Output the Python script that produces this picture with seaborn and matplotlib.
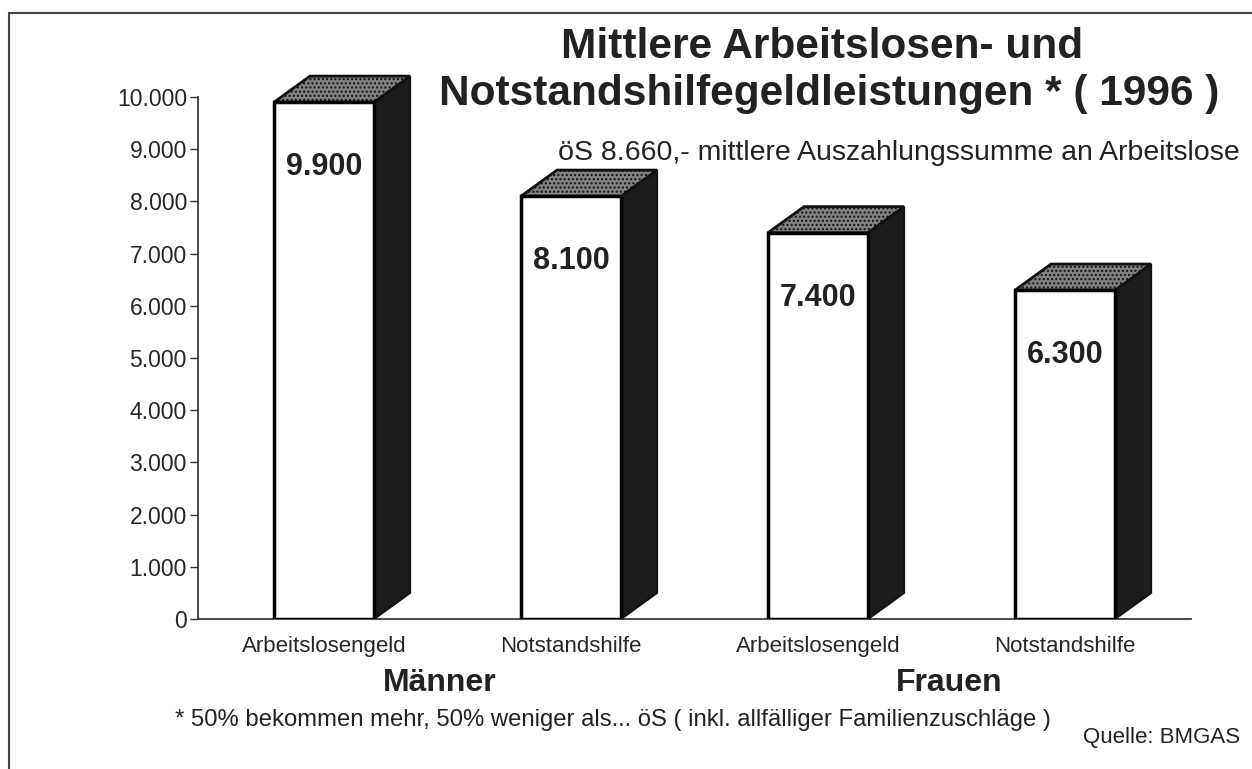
import matplotlib
matplotlib.use("Agg")
import matplotlib.pyplot as plt
import numpy as np
import pandas as pd
import seaborn as sns
from matplotlib.patches import Polygon, Rectangle

# data
leistung = ["Arbeitslosengeld", "Notstandshilfe", "Arbeitslosengeld", "Notstandshilfe"]
geschlecht = ["Männer", "Männer", "Frauen", "Frauen"]
betrag = [9900, 8100, 7400, 6300]
wert_labels = ["9.900", "8.100", "7.400", "6.300"]
yticks = [0, 1000, 2000, 3000, 4000, 5000, 6000, 7000, 8000, 9000, 10000]
ytick_labels = ["0", "1.000", "2.000", "3.000", "4.000", "5.000", "6.000",
                "7.000", "8.000", "9.000", "10.000"]

df = pd.DataFrame({"pos": [f"{g}_{i}" for i, g in enumerate(geschlecht)],
                   "Leistung": leistung, "Betrag": betrag})

sns.set_theme(style="white")
plt.rcParams["font.family"] = ["Liberation Sans", "DejaVu Sans"]

W, H = 1252, 769
fig = plt.figure(figsize=(W / 100, H / 100), dpi=100)
ax = fig.add_axes([198 / W, 1 - 619 / H, (1191 - 198) / W, (619 - 97) / H])

sns.barplot(data=df, x="pos", y="Betrag", ax=ax, color="white",
            edgecolor="black", linewidth=2.5, width=0.405, saturation=1,
            zorder=3)
ax.set_xlim(-0.51, 3.51)
ax.set_ylim(0, 10000)

# 3D side and top from the bar geometry
dx, dy = 0.146, 500
for p, lab in zip(ax.patches, wert_labels):
    x0, w, h = p.get_x(), p.get_width(), p.get_height()
    x1 = x0 + w
    side = Polygon([(x1, 0), (x1 + dx, dy), (x1 + dx, h + dy), (x1, h)],
                   closed=True, facecolor="#1c1c1c", edgecolor="#111111",
                   linewidth=1.5, clip_on=False, zorder=2)
    top = Polygon([(x0, h), (x0 + dx, h + dy), (x1 + dx, h + dy), (x1, h)],
                  closed=True, facecolor="#808080", edgecolor="#111111",
                  linewidth=2, clip_on=False, zorder=2, hatch="....")
    ax.add_patch(side)
    ax.add_patch(top)
    ax.text(x0 + w / 2, h - 1250, lab, ha="center", va="center",
            fontsize=22, fontweight="bold", color="#222222", zorder=4)

ax.set_xticks(range(len(leistung)))
ax.set_xticklabels(leistung, fontsize=16)
ax.set_yticks(yticks)
ax.set_yticklabels(ytick_labels, fontsize=16.5)
ax.tick_params(axis="y", left=True, length=6, width=1, color="#333333", pad=2)
ax.tick_params(axis="x", bottom=False, pad=6)
ax.set_xlabel("")
ax.set_ylabel("")
for s in ["top", "right"]:
    ax.spines[s].set_visible(False)
ax.spines["left"].set_color("#333333")
ax.spines["bottom"].set_color("#333333")
ax.set_facecolor("none")

# group labels
ax.text(0.47, -0.123, "Männer", transform=ax.get_xaxis_transform(),
        ha="center", va="center", fontsize=23, fontweight="bold", color="#222222")
ax.text(2.53, -0.123, "Frauen", transform=ax.get_xaxis_transform(),
        ha="center", va="center", fontsize=23, fontweight="bold", color="#222222")

# titles and notes
fig.text(822 / W, 1 - 47 / H, "Mittlere Arbeitslosen- und", ha="center",
         va="center", fontsize=30.5, fontweight="bold", color="#222222")
fig.text(1219 / W, 1 - 94 / H, "Notstandshilfegeldleistungen * ( 1996 )",
         ha="right", va="center", fontsize=30.5, fontweight="bold", color="#222222")
fig.text(1240 / W, 1 - 153 / H,
         "öS 8.660,- mittlere Auszahlungssumme an Arbeitslose",
         ha="right", va="center", fontsize=20.5, color="#222222")
fig.text(175 / W, 1 - 720 / H,
         "* 50% bekommen mehr, 50% weniger als... öS ( inkl. allfälliger Familienzuschläge )",
         ha="left", va="center", fontsize=17.2, color="#222222")
fig.text(1240 / W, 1 - 737 / H, "Quelle: BMGAS", ha="right", va="center",
         fontsize=16, color="#222222")

# frame around the figure (cut off right and bottom)
fig.patches.append(Rectangle((9 / W, -0.05), 1.1, 1 - 13 / H + 0.05,
                             transform=fig.transFigure, fill=False,
                             edgecolor="#444444", linewidth=1.5))

fig.savefig("out.png", dpi=100)
